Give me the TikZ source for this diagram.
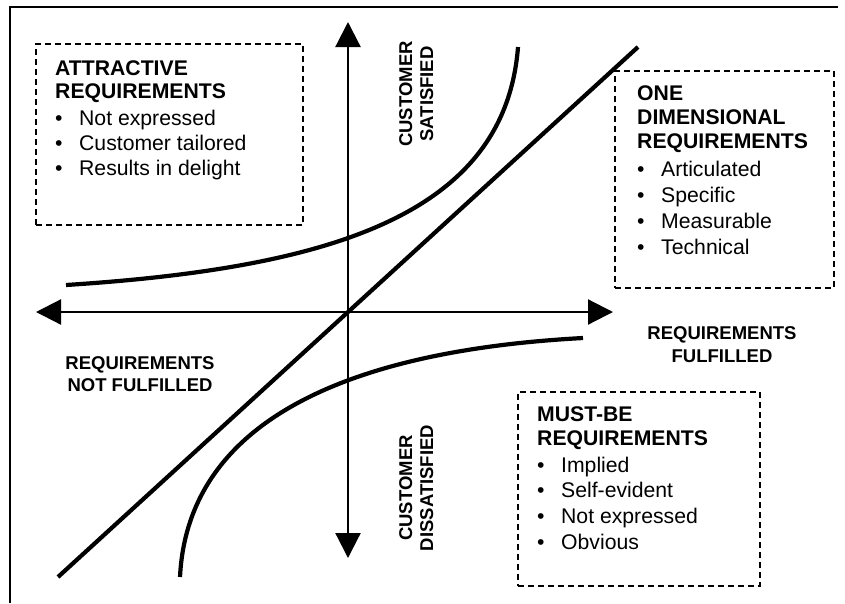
\documentclass[tikz,border=0pt]{standalone}
\usepackage{fontspec}
\setmainfont{Liberation Sans}
\usetikzlibrary{arrows.meta}
\newcommand\kbullet{\makebox[24pt][l]{\textbullet}}
\begin{document}
\begin{tikzpicture}[x=1pt,y=-1pt,
  axis/.style={line width=2.2pt,
    {Triangle[length=25pt,width=25pt]}-{Triangle[length=25pt,width=25pt]}},
  curve/.style={line width=4.2pt},
  frameline/.style={line width=2pt},
  dbox/.style={draw, dash pattern=on 6pt off 4pt, line width=1.5pt,
    inner sep=0pt, anchor=north west},
  boxtext/.style={anchor=base west, inner sep=0pt,
    font=\fontsize{21.2}{25}\selectfont},
  axlabel/.style={anchor=base, inner sep=0pt,
    font=\bfseries\fontsize{18.5}{22}\selectfont},
]
\useasboundingbox (0,0) rectangle (845,603);

% outer frame (left and top edges)
\coordinate (fbl) at (10,603);
\coordinate (ftl) at (10,7);
\coordinate (ftr) at (838,7);
\draw[frameline] (fbl) -- (ftl) -- (ftr);

% axes
\coordinate (vtop) at (348,22);
\coordinate (vbot) at (348,558);
\coordinate (hleft) at (36,312);
\coordinate (hright) at (613,312);
\draw[axis] (vbot) -- (vtop);
\draw[axis] (hleft) -- (hright);

% one-dimensional line
\coordinate (dstart) at (58,577);
\coordinate (dend) at (638,47);
\draw[curve] (dstart) -- (dend);

% attractive curve
\coordinate (astart) at (66,285);
\coordinate (aend) at (518,47);
\draw[curve] (astart) .. controls (330,268) and (505,215) .. (aend);

% must-be curve
\coordinate (mstart) at (180,577);
\coordinate (mend) at (583,338);
\draw[curve] (mstart) .. controls (188,415) and (360,350) .. (mend);

% dashed boxes
\node[dbox, minimum width=267pt, minimum height=181pt] (attrbox) at (35,43) {};
\node[dbox, minimum width=219pt, minimum height=217pt] (onebox) at (614,70) {};
\node[dbox, minimum width=242pt, minimum height=194pt] (mustbox) at (517,391) {};

% box contents
\node[boxtext] (attrtext) at (55,75) {\parbox[t]{240pt}{\raggedright
  \bfseries ATTRACTIVE\\[-2pt] REQUIREMENTS\\[2pt]\mdseries
  \kbullet Not expressed\\ \kbullet Customer tailored\\ \kbullet Results in delight}};
\node[boxtext] (onetext) at (637,100) {\parbox[t]{190pt}{\raggedright
  \bfseries ONE\\[-1pt] DIMENSIONAL\\[-1pt] REQUIREMENTS\\[3pt]\mdseries
  \kbullet Articulated\\[1pt] \kbullet Specific\\[1pt] \kbullet Measurable\\[1pt] \kbullet Technical}};
\node[boxtext] (musttext) at (537,421) {\parbox[t]{215pt}{\raggedright
  \bfseries MUST-BE\\[-1pt] REQUIREMENTS\\[2pt]\mdseries
  \kbullet Implied\\ \kbullet Self-evident\\[1pt] \kbullet Not expressed\\[1pt] \kbullet Obvious}};

% axis labels
\node[axlabel] (fulfilled) at (722,339) {\parbox[t]{200pt}{\centering
  REQUIREMENTS\\[1pt] FULFILLED}};
\node[axlabel] (notfulfilled) at (140,369) {\parbox[t]{200pt}{\centering
  REQUIREMENTS\\ NOT FULFILLED}};
\node[axlabel, rotate=90] (satisfied) at (412,94) {\parbox[t]{150pt}{\centering
  CUSTOMER\\[-1pt] SATISFIED}};
\node[axlabel, rotate=90] (dissatisfied) at (412,488) {\parbox[t]{150pt}{\centering
  CUSTOMER\\[-1pt] DISSATISFIED}};
\end{tikzpicture}
\end{document}
